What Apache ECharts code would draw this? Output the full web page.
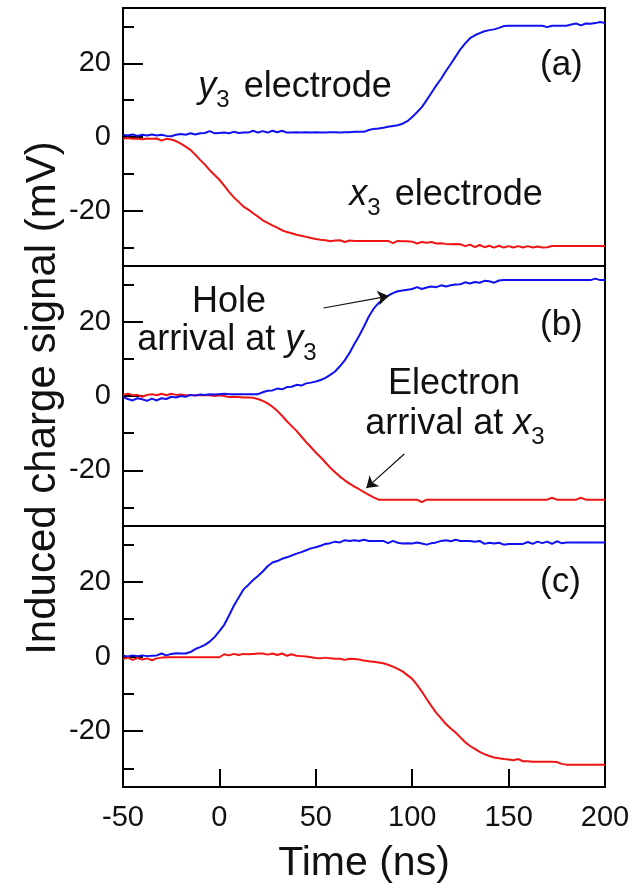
<!DOCTYPE html>
<html>
<head>
<meta charset="utf-8">
<script src="https://cdn.jsdelivr.net/npm/echarts@6/dist/echarts.min.js"></script>
<style>
  html, body { margin: 0; padding: 0; background: #fff; }
  #chart { width: 637px; height: 891px; }
</style>
</head>
<body>
<div id="chart"></div>
<script>
// Sampling times (ns)
const times = [
  -50,-47.5,-45,-42.5,-40,-37.5,-35,-32.5,-30,-27.5,
  -25,-22.5,-20,-17.5,-15,-12.5,-10,-7.5,-5,-2.5,
  0,2.5,5,7.5,10,12.5,15,17.5,20,22.5,
  25,27.5,30,32.5,35,37.5,40,42.5,45,47.5,
  50,52.5,55,57.5,60,62.5,65,67.5,70,72.5,
  75,77.5,80,82.5,85,87.5,90,92.5,95,97.5,
  100,102.5,105,107.5,110,112.5,115,117.5,120,122.5,
  125,127.5,130,132.5,135,137.5,140,142.5,145,147.5,
  150,152.5,155,157.5,160,162.5,165,167.5,170,172.5,
  175,177.5,180,182.5,185,187.5,190,192.5,195,197.5,
  200
];

// Panel (a): y3 electrode (blue), x3 electrode (red), mV
const aY3 = [
  0.6,0.4,0.7,0.3,0.6,0.4,0.7,0.4,0.6,0.3,
  0.2,0.6,0.8,0.6,1.0,0.7,1.0,1.1,1.6,1.0,
  1.1,1.2,1.0,1.4,1.1,1.2,1.2,1.7,1.2,1.6,
  1.2,1.7,1.3,1.7,1.2,1.2,1.3,1.2,1.3,1.2,
  1.3,1.2,1.2,1.3,1.3,1.2,1.3,1.3,1.4,1.4,
  1.4,1.9,2.2,2.3,2.5,2.8,3.0,3.2,3.6,4.3,
  5.4,6.7,8.1,10.0,12.0,14.0,15.8,17.9,19.8,21.8,
  23.8,25.4,26.8,27.6,28.2,28.7,29.0,29.2,29.6,30.1,
  30.2,30.2,30.2,30.2,30.2,30.2,30.2,30.2,29.8,30.2,
  30.2,30.2,30.2,30.5,30.8,30.3,30.8,30.7,30.9,31.2,
  30.9
];
const aX3 = [
  -0.5,-0.3,-0.5,-0.4,-0.6,-0.4,-0.5,-0.4,-1.0,-0.5,
  -0.7,-1.1,-1.8,-2.6,-3.5,-4.8,-6.2,-7.5,-9.0,-10.3,
  -11.6,-13.2,-14.9,-16.4,-17.6,-18.9,-19.7,-20.7,-21.6,-22.6,
  -23.3,-24.0,-24.6,-25.3,-25.8,-26.1,-26.5,-26.8,-27.1,-27.4,
  -27.7,-27.9,-28.0,-28.3,-28.1,-28.0,-28.5,-28.1,-28.2,-28.2,
  -28.2,-28.2,-28.2,-28.2,-28.2,-28.2,-28.8,-28.2,-28.3,-28.3,
  -28.4,-28.9,-28.5,-28.7,-28.5,-28.9,-28.8,-29.0,-29.1,-29.0,
  -29.1,-29.6,-29.2,-29.9,-29.3,-29.9,-29.5,-30.0,-29.5,-30.0,
  -29.6,-30.0,-29.6,-30.0,-29.6,-30.0,-29.7,-30.0,-29.9,-29.6,
  -29.6,-29.6,-29.6,-29.6,-29.6,-29.6,-29.6,-29.6,-29.6,-29.6,
  -29.6
];

// Panel (b)
const bY3 = [
  -0.3,-0.8,-1.2,-0.6,-0.9,-1.3,-0.7,-1.2,-0.6,-0.8,
  -0.2,-0.4,0.0,-0.2,0.3,0.1,0.4,0.3,0.5,0.4,
  0.5,0.6,0.5,0.5,0.5,0.5,0.5,0.5,0.5,1.0,
  1.4,1.5,2.0,1.8,2.4,2.5,3.0,2.8,3.4,3.6,
  3.9,4.3,4.9,5.7,6.6,8.0,9.6,11.6,14.0,16.2,
  18.7,21.4,23.5,25.0,26.0,27.0,27.7,28.2,28.4,28.6,
  28.8,29.3,28.8,29.2,29.5,29.3,29.8,29.5,29.8,30.0,
  30.1,30.6,30.3,30.7,30.5,31.0,30.9,30.5,31.1,31.2,
  31.2,31.2,31.2,31.2,31.2,31.2,31.2,31.2,31.2,31.2,
  31.2,31.2,31.2,31.2,31.2,31.2,31.2,31.2,31.6,31.2,
  31.2
];
const bX3 = [
  0.3,0.6,0.2,0.3,-0.2,0.3,0.5,0.2,0.6,0.2,
  0.6,0.3,0.4,0.2,0.2,0.2,0.2,0.2,0.2,0.0,
  0.2,0.0,-0.3,-0.2,-0.3,-0.4,-0.4,-0.5,-0.8,-1.3,
  -2.0,-2.9,-4.0,-5.3,-6.8,-8.1,-9.4,-10.9,-12.4,-13.8,
  -15.2,-16.5,-17.9,-19.3,-20.5,-21.7,-22.7,-23.6,-24.4,-25.1,
  -25.9,-26.6,-27.3,-27.9,-27.9,-27.9,-27.9,-27.9,-27.9,-27.9,
  -27.9,-27.9,-28.6,-27.9,-27.9,-27.9,-27.9,-27.9,-27.9,-27.9,
  -27.9,-27.9,-27.9,-27.9,-27.9,-27.9,-27.9,-27.9,-27.9,-27.9,
  -27.9,-27.9,-27.9,-27.9,-27.9,-27.9,-27.9,-27.9,-27.9,-27.4,
  -27.9,-27.9,-27.9,-27.9,-27.9,-27.4,-27.9,-27.9,-27.9,-27.9,
  -27.9
];

// Panel (c)
const cY3 = [
  0.2,0.0,0.3,0.1,0.3,0.1,0.2,0.3,0.8,0.3,
  0.7,0.9,0.8,0.8,1.2,2.0,2.5,3.1,4.0,5.2,
  6.8,8.5,11.0,13.6,15.8,18.0,19.2,20.5,21.6,22.8,
  24.2,25.2,25.6,26.2,26.6,27.1,27.6,28.0,28.5,29.0,
  29.3,29.7,30.2,30.4,30.8,30.6,31.2,31.0,31.2,31.0,
  31.3,31.0,31.0,31.0,31.0,30.4,31.0,30.5,30.3,30.4,
  30.3,30.6,30.3,30.0,30.4,30.6,31.0,31.2,30.9,31.3,
  31.0,31.0,31.0,30.8,31.0,30.2,30.5,30.3,30.5,30.0,
  30.2,30.2,30.2,30.2,30.7,30.2,30.8,30.4,30.8,30.2,
  30.9,30.4,30.6,30.6,30.6,30.6,30.6,30.6,30.6,30.6,
  30.6
];
const cX3 = [
  -0.7,-0.3,-0.9,-0.4,-0.8,-0.5,-1.0,-0.5,-0.3,-0.2,
  -0.2,-0.2,-0.2,-0.2,-0.2,-0.2,-0.2,-0.2,-0.2,-0.2,
  -0.2,0.6,0.3,0.7,0.4,0.7,0.6,0.7,0.8,0.8,
  0.5,0.8,0.4,0.8,0.2,0.6,0.2,0.1,0.0,-0.2,
  -0.4,-0.5,-0.3,-0.5,-0.6,-0.6,-0.9,-0.6,-0.7,-0.8,
  -1.1,-1.3,-1.4,-1.6,-1.8,-2.2,-2.7,-3.3,-4.0,-5.0,
  -6.0,-7.6,-9.4,-11.4,-13.3,-15.1,-16.6,-18.1,-19.3,-20.4,
  -21.7,-23.0,-24.0,-24.8,-25.6,-26.2,-26.7,-27.1,-27.3,-27.5,
  -27.6,-27.8,-27.5,-28.1,-28.1,-28.2,-28.2,-28.2,-28.2,-28.2,
  -28.3,-28.8,-29.0,-29.0,-29.0,-29.0,-29.0,-29.0,-29.0,-29.0,
  -29.0
];

// Axis settings
const timeRange = [-50, 200];
const signalRange = [-35, 35];
const majorTicksY = [-20, 0, 20];
const minorTicksY = [-30, -10, 10, 30];
const timeTicks = [0, 50, 100, 150];

// Arrow annotations in panel (b), in data units [time, mV]
const holeArrow = [[54, 23.7], [87.8, 26.9]];
const electronArrow = [[95.9, -15.6], [76.2, -24.8]];

const FONT = "'Liberation Sans', Arial, Helvetica, sans-serif";
const BLUE = '#1010f0';
const RED = '#f01414';
const INK = '#111';

const panels = [
  { top: 8, height: 258, y3: aY3, x3: aX3 },
  { top: 266, height: 260, y3: bY3, x3: bX3 },
  { top: 526, height: 261, y3: cY3, x3: cX3 }
];

const pair = (vals) => times.map((t, i) => [t, vals[i]]);

const grids = [], xAxes = [], yAxes = [], series = [];
panels.forEach((p, k) => {
  const last = k === panels.length - 1;
  grids.push({
    left: 123, right: 32, top: p.top, height: p.height,
    show: true, borderColor: '#000', borderWidth: 2, backgroundColor: 'transparent'
  });
  xAxes.push({
    type: 'value', gridIndex: k, min: timeRange[0], max: timeRange[1], interval: 50,
    axisLine: { show: false, onZero: false },
    splitLine: { show: false },
    axisTick: { show: last, inside: true, length: 18, customValues: timeTicks,
                lineStyle: { color: '#000', width: 2 } },
    axisLabel: { show: last, margin: 16, fontSize: 29, color: INK, fontFamily: FONT }
  });
  // major ticks with labels
  yAxes.push({
    type: 'value', gridIndex: k, min: signalRange[0], max: signalRange[1], position: 'left',
    axisLine: { show: false, onZero: false },
    splitLine: { show: false },
    axisTick: { show: true, inside: true, length: 20, customValues: majorTicksY,
                lineStyle: { color: '#000', width: 2 } },
    axisLabel: { show: true, customValues: majorTicksY, margin: 12, fontSize: 29,
                 color: INK, fontFamily: FONT }
  });
  // minor ticks
  yAxes.push({
    type: 'value', gridIndex: k, min: signalRange[0], max: signalRange[1], position: 'left', offset: 0,
    axisLine: { show: false, onZero: false },
    splitLine: { show: false },
    axisTick: { show: true, inside: true, length: 11, customValues: minorTicksY,
                lineStyle: { color: '#000', width: 2 } },
    axisLabel: { show: false }
  });
  const lineOf = (name, vals, color, z) => ({
    type: 'line', name, xAxisIndex: k, yAxisIndex: 2 * k, data: pair(vals),
    showSymbol: false, symbol: 'none', animation: false, z,
    lineStyle: { color, width: 2 }
  });
  const red = lineOf('x3', p.x3, RED, last ? 3 : 2);
  const blue = lineOf('y3', p.y3, BLUE, last ? 2 : 3);
  if (k === 1) {
    red.markLine = {
      silent: true, animation: false, symbol: ['none', 'arrow'], symbolSize: 11,
      label: { show: false },
      lineStyle: { color: INK, width: 1.2, type: 'solid' },
      itemStyle: { color: INK },
      data: [
        [{ coord: holeArrow[0] }, { coord: holeArrow[1] }],
        [{ coord: electronArrow[0] }, { coord: electronArrow[1] }]
      ]
    };
  }
  series.push(red, blue);
});

// ---- text layout helpers ----
const measureCtx = document.createElement('canvas').getContext('2d');
const fontStr = (size, italic) => `${italic ? 'italic ' : ''}${size}px ${FONT}`;
const textWidth = (s, size, italic) => {
  measureCtx.font = fontStr(size, italic);
  return measureCtx.measureText(s).width;
};
// zrender draws single-line text centred on the em box; shift from baseline
const midFromBaseline = (baseline, size) => baseline - 0.35 * size;

const textEl = (s, x, baseline, size, italic, align) => ({
  type: 'text', x, y: midFromBaseline(baseline, size), z: 10, silent: true,
  style: { text: s, fill: INK, font: fontStr(size, italic),
           textAlign: align || 'left', textVerticalAlign: 'middle' }
});

// tokens: {s, italic, sub, gap}; laid out left to right, centred on cx
const ANN = 36, SUB = 24;
function lineOfTokens(tokens, cx, baseline) {
  const widths = tokens.map(t => textWidth(t.s, t.sub ? SUB : ANN, t.italic) + (t.gap || 0));
  const total = widths.reduce((a, b) => a + b, 0);
  let x = cx - total / 2;
  return tokens.map((t, i) => {
    const el = t.sub
      ? textEl(t.s, x, baseline + 0.24 * ANN, SUB, false)
      : textEl(t.s, x, baseline, ANN, t.italic);
    x += widths[i];
    return el;
  });
}

const graphics = [
  // axis titles
  { type: 'text', x: 43, y: 398, rotation: Math.PI / 2, z: 10, silent: true,
    style: { text: 'Induced charge signal (mV)', fill: INK, font: fontStr(42),
             textAlign: 'center', textVerticalAlign: 'middle' } },
  textEl('Time (ns)', 364, 878, 41, false, 'center'),
  // panel tags
  textEl('(a)', 540, 78, 35),
  textEl('(b)', 540, 338, 35),
  textEl('(c)', 540, 595, 35),
  // panel (a) curve labels
  ...lineOfTokens([{ s: 'y', italic: true }, { s: '3', sub: true, gap: 14 }, { s: 'electrode' }], 295, 100),
  ...lineOfTokens([{ s: 'x', italic: true }, { s: '3', sub: true, gap: 14 }, { s: 'electrode' }], 446, 208),
  // panel (b) arrival notes
  ...lineOfTokens([{ s: 'Hole' }], 229, 315),
  ...lineOfTokens([{ s: 'arrival at ' }, { s: 'y', italic: true }, { s: '3', sub: true }], 227, 353),
  ...lineOfTokens([{ s: 'Electron' }], 454, 397),
  ...lineOfTokens([{ s: 'arrival at ' }, { s: 'x', italic: true }, { s: '3', sub: true }], 455, 437)
];

const chart = echarts.init(document.getElementById('chart'), null, { renderer: 'canvas' });
chart.setOption({
  backgroundColor: '#fff',
  animation: false,
  grid: grids,
  xAxis: xAxes,
  yAxis: yAxes,
  series,
  graphic: graphics
});
</script>
</body>
</html>
